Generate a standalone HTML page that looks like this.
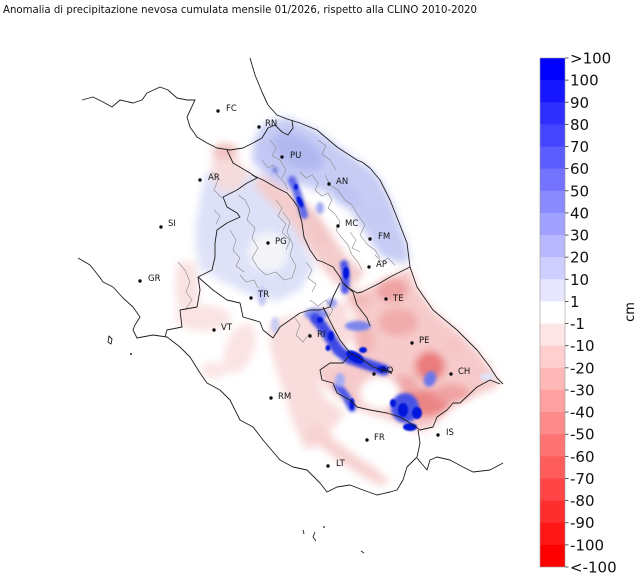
<!DOCTYPE html>
<html><head><meta charset="utf-8"><style>html,body{margin:0;padding:0;background:#fff}svg{display:block}</style></head>
<body>
<svg width="640" height="580" viewBox="0 0 640 580" xmlns="http://www.w3.org/2000/svg" font-family="'DejaVu Sans','Liberation Sans',sans-serif">
<defs>
<filter id="b4" filterUnits="userSpaceOnUse" x="0" y="0" width="640" height="580"><feGaussianBlur stdDeviation="4"/></filter>
<filter id="b2" filterUnits="userSpaceOnUse" x="0" y="0" width="640" height="580"><feGaussianBlur stdDeviation="1.6"/></filter>
<filter id="b1" filterUnits="userSpaceOnUse" x="0" y="0" width="640" height="580"><feGaussianBlur stdDeviation="0.8"/></filter>
</defs>
<rect width="640" height="580" fill="#fff"/>
<text x="3" y="13" font-size="10.6" fill="#111" textLength="474" lengthAdjust="spacingAndGlyphs">Anomalia di precipitazione nevosa cumulata mensile 01/2026, rispetto alla CLINO 2010-2020</text>

<!-- broad fields -->
<g filter="url(#b4)">
  <polygon points="205,175 230,160 255,175 285,190 300,215 305,250 315,265 300,290 280,300 260,300 240,290 215,278 198,262 195,230 200,200" fill="#dde1f8"/>
  <polygon points="195,243 222,245 252,255 250,278 225,280 200,270" fill="#e0e3f8"/>
  <ellipse cx="268" cy="252" rx="20" ry="20" fill="#f4f4f9"/>
  <polygon points="258,128 270,122 287,117 305,125 320,132 340,148 357,160 370,168 382,182 392,203 400,225 407,245 410,262 395,262 380,255 370,240 360,225 350,210 340,198 325,192 310,188 295,182 280,170 265,155" fill="#c6ccf4"/>
  <polygon points="255,135 290,150 302,180 290,190 268,178 252,160" fill="#c2c8f4"/>
  <ellipse cx="298" cy="152" rx="28" ry="15" transform="rotate(30 298 152)" fill="#b0b8f0"/>
  <ellipse cx="345" cy="195" rx="18" ry="10" transform="rotate(35 345 195)" fill="#bec4f3"/>
  <ellipse cx="370" cy="215" rx="14" ry="8" fill="#c4c9f4"/>
  <ellipse cx="225" cy="152" rx="13" ry="9" fill="#f3c2c2"/>
  <polygon points="212,160 235,158 250,172 240,188 222,192 212,180" fill="#f6dbdb"/>
  <polygon points="258,175 275,182 295,196 315,210 332,235 348,258 365,272 352,288 336,284 320,265 305,245 290,222 270,202 255,188" fill="#f4cccc"/>
  <ellipse cx="318" cy="230" rx="8" ry="20" transform="rotate(-25 318 230)" fill="#f3c6c6"/>
  <polygon points="177,262 195,262 200,290 196,315 180,318 175,290" fill="#f9e2e2"/>
  <ellipse cx="203" cy="318" rx="28" ry="13" fill="#fbe3e3"/>
  <ellipse cx="240" cy="348" rx="14" ry="26" transform="rotate(20 240 348)" fill="#fbe3e3"/>
  <ellipse cx="214" cy="370" rx="14" ry="8" fill="#fbe5e5"/>
  <polygon points="270,322 300,314 330,305 346,300 352,340 332,364 318,380 325,398 345,412 325,440 305,450 292,420 285,395 276,370 270,345" fill="#f9dcdc"/>
  <ellipse cx="313" cy="437" rx="8" ry="10" fill="#f7d2d2"/>
  <polygon points="343,283 357,293 380,283 410,267 417,287 433,310 457,330 477,350 490,367 500,384 490,390 477,395 460,403 447,412 435,425 420,432 405,425 385,418 365,412 350,405 335,395 322,382 320,370 335,362 350,360 360,350 352,335 355,315 348,300" fill="#f6caca"/>
  <ellipse cx="392" cy="290" rx="16" ry="12" fill="#efa2a2"/>
  <ellipse cx="398" cy="322" rx="20" ry="14" fill="#f1abab"/>
  <ellipse cx="430" cy="366" rx="15" ry="15" fill="#ea7c7c"/>
  <ellipse cx="425" cy="403" rx="24" ry="14" fill="#ec8585"/>
  <ellipse cx="452" cy="393" rx="18" ry="9" fill="#f0a2a2"/>
  <ellipse cx="405" cy="385" rx="12" ry="10" fill="#f0a8a8"/>
  <ellipse cx="360" cy="300" rx="12" ry="8" fill="#f3baba"/>
  <ellipse cx="365" cy="340" rx="10" ry="14" fill="#f2b6b6"/>
  <ellipse cx="455" cy="345" rx="10" ry="8" fill="#f5c4c4"/>
  <polygon points="308,425 318,424 335,440 355,455 375,468 390,482 380,486 360,475 340,462 322,448 310,437" fill="#f7d2d2"/>
  <ellipse cx="380" cy="393" rx="20" ry="16" fill="#fff"/>
</g>

<!-- medium blue blobs -->
<g filter="url(#b2)">
  <path d="M292,180 L297,192 L301,205 L304,215" stroke="#5e69e8" stroke-width="8" fill="none" stroke-linecap="round"/>
  <ellipse cx="275" cy="170" rx="3" ry="3" fill="#7a84ec"/>
  <ellipse cx="320" cy="208" rx="4" ry="6" fill="#a2a9f1"/>
  <ellipse cx="316" cy="314" rx="12" ry="6" fill="#8a92ee"/>
  <ellipse cx="358" cy="326" rx="13" ry="5" fill="#7c85ec"/>
  <ellipse cx="332" cy="303" rx="5" ry="5" fill="#9aa1f0"/>
  <path d="M344,264 L346,274 L345,290" stroke="#4b57e6" stroke-width="8" fill="none" stroke-linecap="round"/>
  <path d="M315,318 L322,326 L330,338 L338,350 L348,358 L360,362 L372,366 L384,370" stroke="#3d4ae4" stroke-width="11" fill="none" stroke-linecap="round"/>
  <path d="M338,386 L346,396 L352,408" stroke="#4e5ae6" stroke-width="8" fill="none" stroke-linecap="round"/>
  <ellipse cx="340" cy="380" rx="5" ry="7" fill="#a7adf2"/>
  <ellipse cx="405" cy="408" rx="14" ry="15" fill="#4652e5"/>
  <ellipse cx="430" cy="379" rx="6" ry="8" transform="rotate(20 430 379)" fill="#6d77ea"/>
  <ellipse cx="487" cy="377" rx="7" ry="4" fill="#dfe2f8"/>
  <ellipse cx="262" cy="296" rx="4" ry="10" fill="#c2c7f3"/>
  <ellipse cx="275" cy="325" rx="4" ry="8" fill="#c8ccf4"/>
</g>
<g filter="url(#b1)" fill="#0613dc">
  <ellipse cx="346" cy="273" rx="3" ry="6"/>
  <ellipse cx="300" cy="202" rx="2.5" ry="6" transform="rotate(-25 300 202)"/>
  <ellipse cx="296" cy="187" rx="2" ry="3"/>
  <ellipse cx="320" cy="320" rx="3" ry="3"/>
  <ellipse cx="331" cy="336" rx="3" ry="5"/>
  <ellipse cx="328" cy="348" rx="2.5" ry="3"/>
  <ellipse cx="355" cy="357" rx="10" ry="5" transform="rotate(30 355 357)"/>
  <ellipse cx="363" cy="350" rx="4" ry="3"/>
  <ellipse cx="382" cy="369" rx="5" ry="3"/>
  <ellipse cx="352" cy="404" rx="2.5" ry="6"/>
  <ellipse cx="403" cy="410" rx="5" ry="7"/>
  <ellipse cx="417" cy="413" rx="5" ry="6"/>
  <ellipse cx="410" cy="427" rx="7" ry="4"/>
  <ellipse cx="393" cy="403" rx="3" ry="4"/>
</g>

<g fill="none" stroke="#8a8a8a" stroke-width="0.6">
  <path d="M300,172 L306,178 L312,175 L318,183 L315,190 L322,196 L328,193 L332,200 L328,208 L335,214 L340,222 L336,230 L342,238 L348,245 L352,255 L358,262 L362,270"/>
  <path d="M262,160 L268,168 L273,165 L277,175 L284,182 L288,190"/>
  <path d="M238,195 L245,200 L250,210 L247,220 L255,228 L252,238 L258,248 L252,258 L258,268 L266,275 L276,272 L284,280 L292,278 L296,266 L290,255 L293,245 L287,232 L290,222 L283,212"/>
  <path d="M230,230 L236,240 L233,250 L240,258 L236,266 L244,272"/>
  <path d="M325,175 L330,185 L338,190 L345,200 L352,205 L358,215 L365,225 L360,235 L368,245 L375,250 L380,258"/>
  <path d="M178,262 L185,270 L190,282 L186,292 L192,300 L185,310"/>
  <path d="M295,318 L300,325 L296,335 L303,342 L310,333"/>
  <path d="M375,255 L382,262 L388,258 L395,265"/>
  <path d="M270,140 L276,148 L272,156 L280,160 L286,170 L282,178"/>
  <path d="M212,172 L218,180 L214,190 L222,198"/>
  <path d="M310,300 L318,306 L326,300 L333,310 L328,318"/>
  <path d="M276,200 L282,208 L278,216 L286,224 L282,232 L290,240 L286,250"/>
  <path d="M318,140 L326,146 L322,154 L330,160 L336,170"/>
  <path d="M350,232 L356,240 L352,248 L360,252"/>
  <path d="M214,210 L220,216 L216,224"/>
  <path d="M240,275 L246,282 L254,280 L258,288"/>
  <path d="M306,262 L312,270 L308,278 L316,284 L312,292"/>
</g>

<g fill="none" stroke="#1e1e1e" stroke-width="0.9" stroke-linejoin="round">
  <path d="M250,58 L255,75 L262,92 L268,105 L277,115 L287,119 L300,123 L317,130 L337,147 L357,160 L362,162 L370,168 L380,180 L390,200 L398,220 L407,243 L410,267 L417,287 L433,310 L457,330 L477,350 L490,367 L497,378 L503,384"/>
  <path d="M82,100 L93,97 L103,102 L112,107 L120,100 L133,103 L142,100 L147,93 L160,87 L168,90 L177,98 L187,100 L195,100 L187,117 L190,127 L197,137 L207,143 L217,148 L230,150 L243,148 L253,143 L262,138 L268,128 L275,125 L282,132 L288,135 L293,128 L292,120"/>
  <path d="M227,150 L233,163 L250,173 L257,178 L247,183 L237,190 L223,197 L227,207 L237,213 L240,217 L227,223 L217,230 L215,243 L215,257 L212,270 L198,277 L200,290 L197,307 L180,310 L182,327 L167,330 L165,337"/>
  <path d="M252,175 L263,180 L277,188 L287,193 L293,200 L298,207 L302,223 L304,237 L310,250 L317,260 L323,262 L333,267 L340,277 L343,283"/>
  <path d="M343,283 L347,287 L357,293 L362,292 L370,288 L380,283 L390,277 L400,272 L410,267"/>
  <path d="M198,277 L213,290 L227,300 L240,303 L243,317 L260,322 L263,330 L273,338 L280,327 L290,320 L300,313 L310,310 L320,310 L330,307 L333,297 L340,283"/>
  <path d="M343,283 L353,292 L357,305 L367,318 L370,326"/>
  <path d="M323,307 L333,327 L340,340 L350,353 L363,360 L373,367 L383,370 L392,372"/>
  <path d="M350,355 L343,363 L330,363 L320,370 L322,380 L333,383 L337,393 L350,400 L357,407 L370,410 L387,413 L400,417 L410,423 L420,430 L433,427 L437,417 L447,410 L453,403 L460,403 L477,387 L490,380 L500,384"/>
  <path d="M418,430 L420,443 L417,457 L407,467 L403,480 L397,490 L390,492"/>
  <path d="M417,458 L427,470 L430,460 L437,457 L450,460 L463,467 L473,472 L490,470 L503,463"/>
  <path d="M78,258 L90,265 L98,275 L103,282 L113,287 L123,298 L133,307 L140,317 L135,325 L133,330 L137,338 L153,335 L167,337 L180,347 L190,357 L200,373 L207,383 L220,390 L230,400 L240,420 L253,427 L263,440 L280,460 L293,467 L307,470 L320,483 L327,492 L337,487 L350,485 L363,490 L377,495 L390,492"/>
  <path d="M109,336 L112,339 L111,344 L108,342 Z"/>
  <path d="M315,532 L313,537 L316,541"/>
  <path d="M303,530 L304,534"/>
  <path d="M361,551 L364,553"/>
</g>
<circle cx="131" cy="354" r="1" fill="#222"/>
<circle cx="324" cy="527" r="0.9" fill="#222"/>

<g fill="#111">
  <circle cx="218" cy="111" r="1.7"/><circle cx="259" cy="127" r="1.7"/><circle cx="282" cy="157" r="1.7"/>
  <circle cx="200" cy="180" r="1.7"/><circle cx="329" cy="184" r="1.7"/><circle cx="161" cy="227" r="1.7"/>
  <circle cx="338" cy="226" r="1.7"/><circle cx="370" cy="239" r="1.7"/><circle cx="268" cy="243" r="1.7"/>
  <circle cx="140" cy="281" r="1.7"/><circle cx="369" cy="267" r="1.7"/><circle cx="251" cy="298" r="1.7"/>
  <circle cx="386" cy="299" r="1.7"/><circle cx="214" cy="330" r="1.7"/><circle cx="310" cy="336" r="1.7"/>
  <circle cx="412" cy="343" r="1.7"/><circle cx="374" cy="374" r="1.7"/><circle cx="451" cy="374" r="1.7"/>
  <circle cx="271" cy="398" r="1.7"/><circle cx="438" cy="435" r="1.7"/><circle cx="367" cy="440" r="1.7"/>
  <circle cx="328" cy="466" r="1.7"/>
</g>
<g font-size="8.5" fill="#111">
  <text x="226" y="111">FC</text><text x="265" y="126">RN</text><text x="290" y="158">PU</text>
  <text x="208" y="180">AR</text><text x="336" y="184">AN</text><text x="168" y="226">SI</text>
  <text x="345" y="226">MC</text><text x="378" y="239">FM</text><text x="275" y="244">PG</text>
  <text x="148" y="281">GR</text><text x="376" y="267">AP</text><text x="258" y="297">TR</text>
  <text x="393" y="301">TE</text><text x="221" y="330">VT</text><text x="317" y="337">RI</text>
  <text x="419" y="343">PE</text><text x="381" y="373">AQ</text><text x="458" y="374">CH</text>
  <text x="278" y="399">RM</text><text x="446" y="435">IS</text><text x="374" y="440">FR</text>
  <text x="336" y="466">LT</text>
</g>

<g>
  <rect x="540" y="58" width="25" height="22.6" fill="#0000ff"/>
  <rect x="540" y="80.13" width="25" height="22.6" fill="#1717ff"/>
  <rect x="540" y="102.26" width="25" height="22.6" fill="#2e2eff"/>
  <rect x="540" y="124.39" width="25" height="22.6" fill="#4545ff"/>
  <rect x="540" y="146.52" width="25" height="22.6" fill="#5c5cff"/>
  <rect x="540" y="168.65" width="25" height="22.6" fill="#7373ff"/>
  <rect x="540" y="190.78" width="25" height="22.6" fill="#8a8aff"/>
  <rect x="540" y="212.91" width="25" height="22.6" fill="#a1a1ff"/>
  <rect x="540" y="235.04" width="25" height="22.6" fill="#b8b8ff"/>
  <rect x="540" y="257.17" width="25" height="22.6" fill="#cfcfff"/>
  <rect x="540" y="279.3" width="25" height="22.6" fill="#e6e6ff"/>
  <rect x="540" y="301.43" width="25" height="22.6" fill="#ffffff"/>
  <rect x="540" y="323.56" width="25" height="22.6" fill="#ffe6e6"/>
  <rect x="540" y="345.69" width="25" height="22.6" fill="#ffcfcf"/>
  <rect x="540" y="367.82" width="25" height="22.6" fill="#ffb8b8"/>
  <rect x="540" y="389.95" width="25" height="22.6" fill="#ffa1a1"/>
  <rect x="540" y="412.08" width="25" height="22.6" fill="#ff8a8a"/>
  <rect x="540" y="434.21" width="25" height="22.6" fill="#ff7373"/>
  <rect x="540" y="456.34" width="25" height="22.6" fill="#ff5c5c"/>
  <rect x="540" y="478.47" width="25" height="22.6" fill="#ff4545"/>
  <rect x="540" y="500.6" width="25" height="22.6" fill="#ff2e2e"/>
  <rect x="540" y="522.73" width="25" height="22.6" fill="#ff1717"/>
  <rect x="540" y="544.86" width="25" height="22.14" fill="#ff0000"/>
  <rect x="540" y="58" width="25" height="509" fill="none" stroke="#9a9a9a" stroke-width="0.6"/>
  <g stroke="#333" stroke-width="0.8">
    <line x1="565" y1="58" x2="568.5" y2="58"/><line x1="565" y1="80.13" x2="568.5" y2="80.13"/>
    <line x1="565" y1="102.26" x2="568.5" y2="102.26"/><line x1="565" y1="124.39" x2="568.5" y2="124.39"/>
    <line x1="565" y1="146.52" x2="568.5" y2="146.52"/><line x1="565" y1="168.65" x2="568.5" y2="168.65"/>
    <line x1="565" y1="190.78" x2="568.5" y2="190.78"/><line x1="565" y1="212.91" x2="568.5" y2="212.91"/>
    <line x1="565" y1="235.04" x2="568.5" y2="235.04"/><line x1="565" y1="257.17" x2="568.5" y2="257.17"/>
    <line x1="565" y1="279.3" x2="568.5" y2="279.3"/><line x1="565" y1="301.43" x2="568.5" y2="301.43"/>
    <line x1="565" y1="323.56" x2="568.5" y2="323.56"/><line x1="565" y1="345.69" x2="568.5" y2="345.69"/>
    <line x1="565" y1="367.82" x2="568.5" y2="367.82"/><line x1="565" y1="389.95" x2="568.5" y2="389.95"/>
    <line x1="565" y1="412.08" x2="568.5" y2="412.08"/><line x1="565" y1="434.21" x2="568.5" y2="434.21"/>
    <line x1="565" y1="456.34" x2="568.5" y2="456.34"/><line x1="565" y1="478.47" x2="568.5" y2="478.47"/>
    <line x1="565" y1="500.6" x2="568.5" y2="500.6"/><line x1="565" y1="522.73" x2="568.5" y2="522.73"/>
    <line x1="565" y1="544.86" x2="568.5" y2="544.86"/><line x1="565" y1="567" x2="568.5" y2="567"/>
  </g>
  <g font-size="15" fill="#111">
    <text x="570" y="63.5">&gt;100</text>
    <text x="570" y="85.6">100</text>
    <text x="570" y="107.8">90</text>
    <text x="570" y="129.9">80</text>
    <text x="570" y="152">70</text>
    <text x="570" y="174.2">60</text>
    <text x="570" y="196.3">50</text>
    <text x="570" y="218.4">40</text>
    <text x="570" y="240.5">30</text>
    <text x="570" y="262.7">20</text>
    <text x="570" y="284.8">10</text>
    <text x="570" y="306.9">1</text>
    <text x="570" y="329.1">-1</text>
    <text x="570" y="351.2">-10</text>
    <text x="570" y="373.3">-20</text>
    <text x="570" y="395.5">-30</text>
    <text x="570" y="417.6">-40</text>
    <text x="570" y="439.7">-50</text>
    <text x="570" y="461.8">-60</text>
    <text x="570" y="484">-70</text>
    <text x="570" y="506.1">-80</text>
    <text x="570" y="528.2">-90</text>
    <text x="570" y="550.4">-100</text>
    <text x="570" y="572.5">&lt;-100</text>
  </g>
  <text x="634" y="312" font-size="13" fill="#111" text-anchor="middle" transform="rotate(-90 634 312)">cm</text>
</g>
</svg>
</body></html>
